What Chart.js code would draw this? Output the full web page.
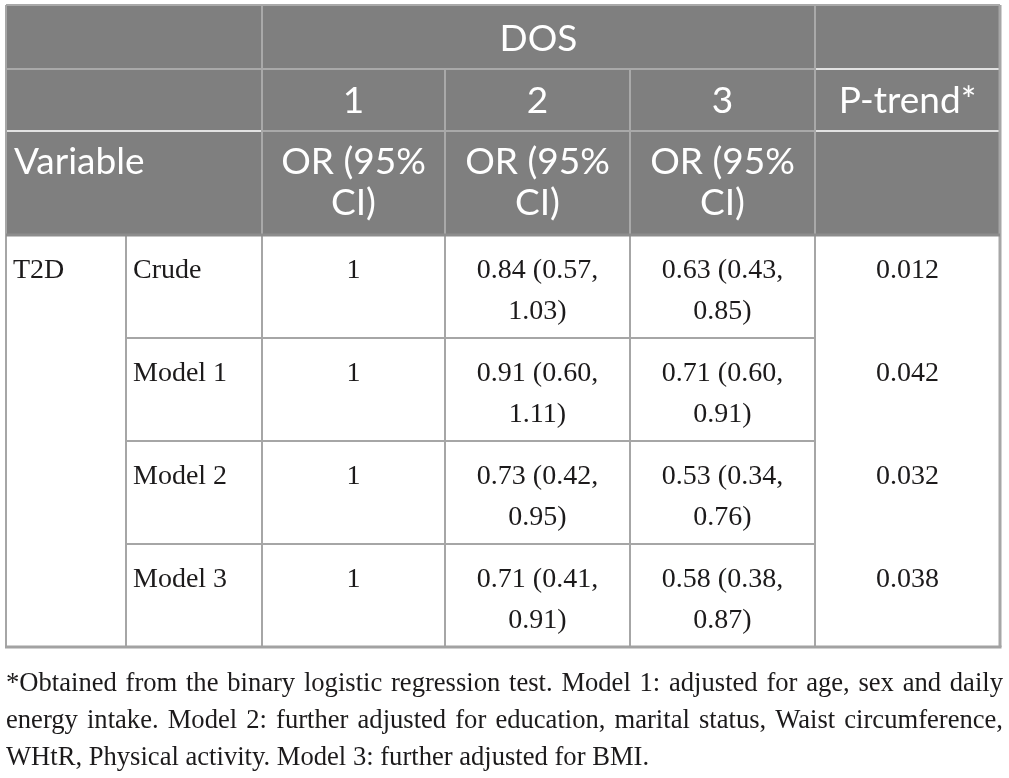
<!DOCTYPE html>
<html>
<head>
<meta charset="utf-8">
<script src="https://cdn.jsdelivr.net/npm/chart.js@4.4.1/dist/chart.umd.min.js"></script>
<style>
  html, body { margin: 0; padding: 0; background: #fff; }
  #wrap { width: 1009px; height: 778px; position: relative; }
</style>
</head>
<body>
<div id="wrap"><canvas id="tabla"></canvas></div>
<script>
// --- datos de la tabla ---
const encabezadoGrupo = "DOS";
const nivelesDOS = ["1", "2", "3"];
const encabezadoP = "P-trend*";
const encabezadoVar = "Variable";
const encabezadoOR = ["OR (95%", "CI)"];
const resultado = "T2D";
const modelos = ["Crude", "Model 1", "Model 2", "Model 3"];
const orNivel1 = [1, 1, 1, 1];
const orNivel2 = [0.84, 0.91, 0.73, 0.71];
const bajoNivel2 = [0.57, 0.60, 0.42, 0.41];
const altoNivel2 = [1.03, 1.11, 0.95, 0.91];
const orNivel3 = [0.63, 0.71, 0.53, 0.58];
const bajoNivel3 = [0.43, 0.60, 0.34, 0.38];
const altoNivel3 = [0.85, 0.91, 0.76, 0.87];
const pTendencia = ["0.012", "0.042", "0.032", "0.038"];
const notas = [
  "*Obtained from the binary logistic regression test. Model 1: adjusted for age, sex and daily",
  "energy intake. Model 2: further adjusted for education, marital status, Waist circumference,",
  "WHtR, Physical activity. Model 3: further adjusted for BMI."
];

// --- maquetacion (unidades de la escala) ---
const bordesCol = [6, 126, 262, 445, 630, 815, 1000];
const bordesFila = [5, 69, 131, 235, 338, 441, 544, 647];
const notaBase = [691, 728, 765];
const notaIzq = 6, notaDer = 1003;

const gris = "#7f7f7f";
const lineaCab = "#a9a9a9";
const lineaClara = "#e2e2e2";
const lineaCuerpo = "#a6a6a6";
const tinta = "#1c1a1b";
const fuenteCab = "37px Lato";
const fuenteCuerpo = "28px 'Liberation Serif'";
const fuenteNota = "26.6px 'Liberation Serif'";

function celdaOR(or, lo, hi) {
  return [or.toFixed(2) + " (" + lo.toFixed(2) + ",", hi.toFixed(2) + ")"];
}

const dibujarTabla = {
  id: "dibujarTabla",
  afterDraw(chart) {
    const ctx = chart.ctx;
    const sx = chart.scales.x, sy = chart.scales.y;
    const X = v => sx.getPixelForValue(v);
    const Y = v => sy.getPixelForValue(v);
    const C = bordesCol.map(X);
    const R = bordesFila.map(Y);

    function linea(x1, y1, x2, y2, color, ancho) {
      ctx.beginPath();
      ctx.strokeStyle = color;
      ctx.lineWidth = ancho;
      ctx.moveTo(x1, y1);
      ctx.lineTo(x2, y2);
      ctx.stroke();
    }
    function texto(t, x, y, font, color, align) {
      ctx.font = font;
      ctx.fillStyle = color;
      ctx.textAlign = align || "center";
      ctx.textBaseline = "alphabetic";
      ctx.fillText(t, x, y);
    }
    const centro = (a, b) => (C[a] + C[b]) / 2;

    ctx.save();
    ctx.fillStyle = "#fff";
    ctx.fillRect(0, 0, chart.width, chart.height);

    // encabezado
    ctx.fillStyle = gris;
    ctx.fillRect(C[0], R[0], C[6] - C[0], R[3] - R[0]);
    linea(C[0], R[1], C[5], R[1], lineaCab, 2);
    linea(C[5], R[1], C[6], R[1], lineaClara, 2);
    linea(C[0], R[2], C[2], R[2], lineaClara, 2);
    linea(C[2], R[2], C[5], R[2], lineaCab, 2);
    linea(C[5], R[2], C[6], R[2], lineaClara, 2);
    linea(C[2], R[0], C[2], R[3], lineaCab, 2);
    linea(C[5], R[0], C[5], R[3], lineaCab, 2);
    linea(C[3], R[1], C[3], R[3], lineaCab, 2);
    linea(C[4], R[1], C[4], R[3], lineaCab, 2);

    // cuerpo
    for (let i = 1; i <= 5; i++) linea(C[i], R[3], C[i], R[7], lineaCuerpo, 2);
    for (let j = 4; j <= 6; j++) linea(C[1], R[j], C[5], R[j], lineaCuerpo, 2);

    // bordes exteriores
    linea(C[0], R[0], C[6], R[0], lineaCab, 2);
    linea(C[0], R[0], C[0], R[7], lineaCuerpo, 2);
    linea(C[6], R[0], C[6], R[7], lineaCuerpo, 3);
    linea(C[0], R[3], C[6], R[3], "#8d8d8d", 3);
    linea(C[0] - 1, R[7], C[6] + 1.5, R[7], "#a2a2a2", 3);

    // textos del encabezado
    texto(encabezadoGrupo, centro(2, 5), R[0] + 46, fuenteCab, "#fff");
    nivelesDOS.forEach((n, i) => texto(n, centro(2 + i, 3 + i), R[1] + 44, fuenteCab, "#fff"));
    texto(encabezadoP, centro(5, 6), R[1] + 44, fuenteCab, "#fff");
    texto(encabezadoVar, C[0] + 8, R[2] + 43, fuenteCab, "#fff", "left");
    for (let i = 2; i <= 4; i++) {
      encabezadoOR.forEach((t, k) => texto(t, centro(i, i + 1), R[2] + 43 + k * 41, fuenteCab, "#fff"));
    }

    // textos del cuerpo
    texto(resultado, C[0] + 7, R[3] + 43, fuenteCuerpo, tinta, "left");
    modelos.forEach((m, i) => {
      const top = R[3 + i];
      texto(m, C[1] + 7, top + 43, fuenteCuerpo, tinta, "left");
      texto(String(orNivel1[i]), centro(2, 3), top + 43, fuenteCuerpo, tinta);
      celdaOR(orNivel2[i], bajoNivel2[i], altoNivel2[i]).forEach((t, k) =>
        texto(t, centro(3, 4), top + 43 + k * 41, fuenteCuerpo, tinta));
      celdaOR(orNivel3[i], bajoNivel3[i], altoNivel3[i]).forEach((t, k) =>
        texto(t, centro(4, 5), top + 43 + k * 41, fuenteCuerpo, tinta));
      texto(pTendencia[i], centro(5, 6), top + 43, fuenteCuerpo, tinta);
    });

    // nota al pie, justificada
    ctx.font = fuenteNota;
    ctx.fillStyle = tinta;
    ctx.textAlign = "left";
    const izq = X(notaIzq), der = X(notaDer);
    notas.forEach((l, i) => {
      const y = Y(notaBase[i]);
      if (i === notas.length - 1) {
        ctx.fillText(l, izq, y);
        return;
      }
      const palabras = l.split(" ");
      const anchoPal = palabras.reduce((s, p) => s + ctx.measureText(p).width, 0);
      const hueco = (der - izq - anchoPal) / (palabras.length - 1);
      let x = izq;
      palabras.forEach(p => {
        ctx.fillText(p, x, y);
        x += ctx.measureText(p).width + hueco;
      });
    });
    ctx.restore();
  }
};

new Chart(document.getElementById("tabla"), {
  type: "scatter",
  data: { datasets: [] },
  options: {
    responsive: true,
    maintainAspectRatio: false,
    animation: false,
    layout: { padding: 0 },
    plugins: { legend: { display: false }, tooltip: { enabled: false } },
    scales: {
      x: { type: "linear", min: 0, max: 1009, display: false },
      y: { type: "linear", min: 0, max: 778, reverse: true, display: false }
    }
  },
  plugins: [dibujarTabla]
});
</script>
</body>
</html>
